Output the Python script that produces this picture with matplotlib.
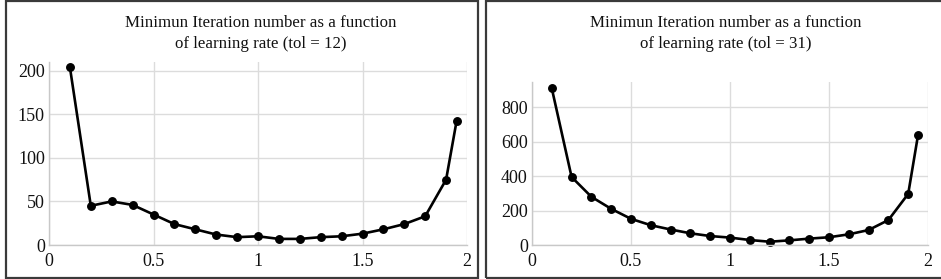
import numpy as np
from matplotlib import pyplot as plt
from matplotlib.patches import Rectangle

plt.rcParams['font.family'] = ['Liberation Serif', 'DejaVu Serif']

# learning rates
lr = [0.1, 0.2, 0.3, 0.4, 0.5, 0.6, 0.7, 0.8, 0.9, 1.0,
      1.1, 1.2, 1.3, 1.4, 1.5, 1.6, 1.7, 1.8, 1.9, 1.95]

# min iterations, tol = 12
iter_tol12 = [204, 45, 50, 46, 35, 24, 18, 12, 9, 10,
              7, 7, 9, 10, 13, 18, 24, 33, 75, 142]

# min iterations, tol = 31
iter_tol31 = [910, 395, 280, 210, 152, 115, 90, 68, 52, 43,
              29, 19, 27, 37, 45, 62, 87, 145, 297, 641]

titles = ["Minimun Iteration number as a function\nof learning rate (tol = 12)",
          "Minimun Iteration number as a function\nof learning rate (tol = 31)"]

W, H = 941, 279
fig = plt.figure(figsize=(W / 100, H / 100), dpi=100)


def px_axes(x0, x1, ytop, ybot):
    return fig.add_axes([x0 / W, (H - ybot) / H, (x1 - x0) / W, (ybot - ytop) / H])


def panel_box(x0, x1, y0, y1):
    fig.patches.append(Rectangle((x0 / W, (H - y1) / H), (x1 - x0) / W, (y1 - y0) / H,
                                 transform=fig.transFigure, fill=False,
                                 edgecolor='#3a3a3a', linewidth=1.6))


def draw(ax, y, ylim, yticks, title, tcx):
    ax.plot(lr, y, color='black', linewidth=1.9, marker='o', markersize=5.4, clip_on=False)
    ax.set_xlim(0, 2)
    ax.set_ylim(*ylim)
    ax.set_xticks([0, 0.5, 1, 1.5, 2])
    ax.set_xticklabels(['0', '0.5', '1', '1.5', '2'])
    ax.set_yticks(yticks)
    ax.grid(True, color='#dcdcdc', linewidth=1.0)
    ax.set_axisbelow(True)
    ax.tick_params(length=0, labelsize=13, colors='#111111')
    ax.tick_params(axis='x', pad=6)
    ax.tick_params(axis='y', pad=3)
    for s in ['top', 'right']:
        ax.spines[s].set_visible(False)
    for s in ['left', 'bottom']:
        ax.spines[s].set_color('#c8c8c8')
        ax.spines[s].set_linewidth(1.0)
    fig.text(tcx / W, (H - 33.5) / H, title, ha='center', va='center',
             fontsize=12.2, linespacing=1.42, color='#111111')


panel_box(6, 478, 1, 278)
panel_box(486, 948, 1, 278)

ax1 = px_axes(49, 467, 62, 245)
draw(ax1, iter_tol12, (0, 210), [0, 50, 100, 150, 200], titles[0], 261)

ax2 = px_axes(532, 928, 82, 245)
draw(ax2, iter_tol31, (0, 947), [0, 200, 400, 600, 800], titles[1], 726)

fig.savefig("out.png", dpi=100)
